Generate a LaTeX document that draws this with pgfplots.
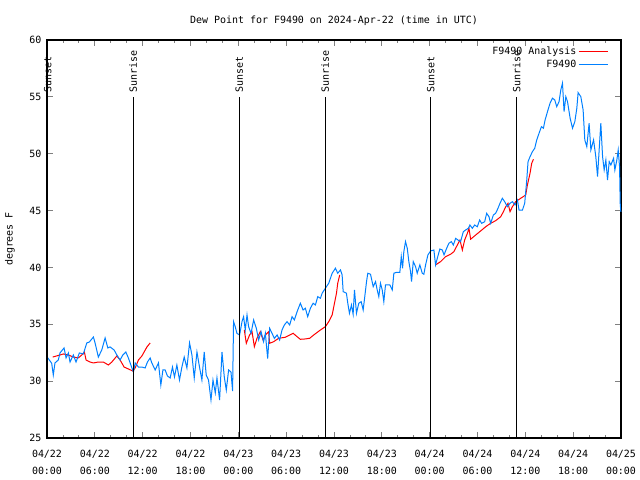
\documentclass[border=0pt]{standalone}
\usepackage{fontspec}
\setmainfont{DejaVu Sans Mono}
\usepackage{pgfplots}
\pgfplotsset{compat=1.18}
\definecolor{gpred}{RGB}{255,0,0}
\definecolor{gpblue}{RGB}{0,128,255}
\begin{document}
\begin{tikzpicture}[font=\fontsize{10}{12}\selectfont]
\path[use as bounding box] (-47bp,-42bp) rectangle (593bp,438bp);
\begin{axis}[
  scale only axis, width=574bp, height=398bp,
  xmin=0, xmax=72, ymin=25, ymax=60,
  clip=false,
  xtick={0,6,...,72},
  xticklabels={{04/22\\00:00},{04/22\\06:00},{04/22\\12:00},{04/22\\18:00},{04/23\\00:00},{04/23\\06:00},{04/23\\12:00},{04/23\\18:00},{04/24\\00:00},{04/24\\06:00},{04/24\\12:00},{04/24\\18:00},{04/25\\00:00}},
  minor x tick num=2,
  ytick={25,30,...,60},
  tick align=inside,
  major tick length=6bp, minor tick length=3bp,
  tick style={line width=0.8bp},
  axis line style={line width=1.2bp},
  /pgf/number format/assume math mode=true,
  xticklabel style={align=center, font=\fontsize{10}{17}\selectfont, yshift=-9bp},
  yticklabel style={xshift=-2bp},
  title={Dew Point for F9490 on 2024-Apr-22 (time in UTC)},
  title style={at={(0.5,1)}, anchor=center, yshift=13bp},
  ylabel={degrees F},
  ylabel style={at={(rel axis cs:0,0.5)}, anchor=center, yshift=37bp},
  legend plot pos=right,
  legend cell align=right,
  legend image code/.code={\draw[#1] (5bp,0bp) -- (34bp,0bp);},
  legend style={at={(rel axis cs:1,1)}, anchor=north east, xshift=-11bp, yshift=-3bp,
    draw=none, fill opacity=0, text opacity=1, inner sep=1.5bp},
]
% Analysis (red), three separate pieces
\addplot[color=gpred, line width=1bp] coordinates {
(0.72,32.12) (1.63,32.30) (2.05,32.39) (2.68,32.30) (3.30,32.12) (3.93,32.04)
(4.36,32.30) (4.69,32.56) (4.90,31.86) (5.40,31.68) (5.82,31.60) (6.44,31.68)
(7.07,31.68) (7.70,31.42) (8.13,31.68) (8.76,32.21) (9.17,31.86) (9.67,31.24)
(10.21,31.07) (10.77,30.89) (11.06,31.16) (11.47,31.86) (11.90,32.21) (12.53,33.00)
(12.94,33.36)};
\addlegendentry{F9490 Analysis}
\addplot[color=gpred, line width=1bp, forget plot] coordinates {
(24.75,34.50) (25.00,33.33) (25.41,34.06) (25.72,34.35) (26.01,33.03) (26.34,33.77)
(26.76,34.35) (27.10,33.62) (27.39,34.06) (27.80,34.35) (27.93,33.33) (28.43,33.47)
(29.06,33.77) (29.90,33.86) (30.87,34.21) (31.37,33.91) (31.78,33.68) (32.41,33.71)
(32.95,33.77) (33.46,34.06) (34.30,34.50) (34.92,34.79) (35.34,35.23) (35.77,35.82)
(36.06,36.85) (36.31,37.73) (36.47,38.61) (36.72,39.34)};
\addplot[color=gpred, line width=1bp, forget plot] coordinates {
(48.74,40.22) (49.37,40.51) (50.00,40.95) (50.63,41.16) (51.04,41.39) (51.47,41.97)
(51.80,42.41) (52.10,41.53) (52.39,42.41) (52.73,43.00) (52.93,43.44) (53.14,42.48)
(53.77,42.85) (54.40,43.21) (55.03,43.58) (55.65,43.88) (56.28,44.11) (56.91,44.46)
(57.25,44.90) (57.54,45.34) (57.83,45.64) (58.08,44.90) (58.38,45.34) (58.79,45.78)
(59.42,46.08) (60.05,46.37) (60.26,47.25) (60.59,48.28) (60.80,49.16) (61.02,49.51)};
% Observations (blue)
\addplot[color=gpblue, line width=1bp] coordinates {
(0.04,32.10) (0.59,31.57) (0.79,30.54) (1.00,31.60) (1.42,31.86) (1.63,32.48)
(2.14,32.92) (2.39,32.04) (2.68,32.48) (2.89,31.68) (3.30,32.30) (3.64,31.68)
(4.06,32.48) (4.56,32.39) (4.99,33.36) (5.31,33.44) (5.82,33.88) (6.03,33.36)
(6.44,32.12) (6.87,32.74) (7.29,33.80) (7.63,32.92) (7.91,33.01) (8.42,32.74)
(8.76,32.30) (9.17,31.86) (9.51,32.30) (9.89,32.56) (10.21,32.04) (10.52,31.42)
(10.84,30.80) (11.06,31.60) (11.47,31.24) (11.90,31.24) (12.31,31.16) (12.60,31.68)
(12.94,32.04) (13.15,31.60) (13.57,30.98) (13.98,31.60) (14.28,29.66) (14.54,30.98)
(14.82,30.98) (15.11,30.45) (15.45,30.28) (15.74,31.24) (15.99,30.36) (16.29,31.42)
(16.62,30.10) (16.92,31.24) (17.21,32.12) (17.55,31.16) (17.88,33.36) (18.18,32.30)
(18.47,30.28) (18.81,32.56) (19.13,31.24) (19.43,30.10) (19.72,32.56) (19.97,30.54)
(20.26,30.10) (20.57,28.34) (20.82,30.10) (21.11,28.96) (21.32,30.28) (21.65,28.34)
(21.95,32.56) (22.24,30.36) (22.49,29.22) (22.78,30.98) (23.08,30.80) (23.28,29.13)
(23.40,35.23) (23.61,34.79) (23.83,34.20) (24.16,34.06) (24.46,35.23) (24.66,35.67)
(24.87,34.50) (25.09,35.82) (25.29,34.79) (25.59,34.20) (25.92,35.38) (26.26,34.64)
(26.55,33.62) (26.85,34.35) (27.17,33.47) (27.39,34.20) (27.68,31.99) (27.93,34.64)
(28.23,34.20) (28.52,33.76) (28.86,34.06) (29.18,33.62) (29.48,34.50) (29.77,34.94)
(30.11,35.23) (30.44,34.94) (30.74,35.67) (31.03,35.38) (31.37,36.11) (31.78,36.85)
(32.12,36.26) (32.41,36.41) (32.70,35.67) (33.04,36.41) (33.38,36.85) (33.67,36.70)
(33.96,37.43) (34.30,37.29) (34.51,37.73) (34.92,38.17) (35.34,38.61) (35.77,39.49)
(36.18,39.93) (36.47,39.49) (36.81,39.78) (37.02,39.34) (37.15,37.87) (37.56,37.73)
(37.73,36.85) (37.94,35.97) (38.19,36.70) (38.40,35.88) (38.57,38.02) (38.82,35.97)
(39.11,36.85) (39.41,36.99) (39.66,36.26) (39.86,37.43) (40.08,38.75) (40.24,39.49)
(40.58,39.40) (40.92,38.31) (41.21,38.75) (41.42,38.02) (41.62,37.43) (41.83,38.61)
(42.05,38.02) (42.25,36.99) (42.46,38.46) (43.00,38.46) (43.31,38.02) (43.51,39.49)
(43.84,39.57) (44.26,39.57) (44.44,40.95) (44.60,39.93) (44.76,41.39) (44.97,42.27)
(45.19,41.68) (45.39,40.51) (45.60,39.63) (45.73,38.75) (45.94,40.51) (46.23,40.07)
(46.44,39.49) (46.77,40.22) (47.07,39.49) (47.27,39.40) (47.49,40.22) (47.78,41.10)
(48.12,41.45) (48.53,41.53) (48.74,40.22) (48.96,40.81) (49.28,41.62) (49.59,41.53)
(49.80,41.10) (50.13,41.68) (50.41,42.12) (50.72,42.27) (50.97,41.97) (51.26,42.56)
(51.55,42.41) (51.88,42.27) (52.22,43.14) (52.51,43.29) (52.85,43.44) (53.05,43.73)
(53.35,43.44) (53.64,43.73) (53.98,43.58) (54.27,44.17) (54.52,43.88) (54.90,44.02)
(55.15,44.76) (55.44,44.46) (55.65,43.88) (55.99,44.61) (56.28,44.76) (56.57,45.20)
(56.82,45.64) (57.12,46.08) (57.41,45.78) (57.75,45.34) (58.08,45.64) (58.38,45.78)
(58.71,45.49) (59.01,45.93) (59.21,45.05) (59.64,45.05) (59.92,45.64) (60.18,47.69)
(60.34,49.30) (60.59,49.74) (60.89,50.18) (61.18,50.48) (61.43,51.21) (61.72,51.80)
(62.02,52.38) (62.27,52.24) (62.48,52.97) (62.78,53.70) (63.10,54.44) (63.40,54.88)
(63.69,54.73) (63.94,54.14) (64.23,54.58) (64.45,55.61) (64.66,56.20) (64.86,53.70)
(65.08,55.02) (65.29,54.58) (65.62,53.12) (65.92,52.24) (66.21,52.82) (66.46,54.00)
(66.62,55.37) (66.96,55.02) (67.25,53.85) (67.46,51.21) (67.71,50.62) (68.00,52.68)
(68.22,50.33) (68.56,51.21) (68.84,49.74) (69.06,47.98) (69.26,50.33) (69.47,52.68)
(69.69,49.74) (69.89,48.57) (70.10,49.45) (70.31,47.69) (70.52,49.30) (70.73,49.01)
(71.07,49.60) (71.23,48.57) (71.48,49.45) (71.65,50.33) (71.82,48.86) (71.90,45.64)
(71.98,44.88)};
\addlegendentry{F9490}
% Sunrise / sunset markers
\addplot[black, line width=1bp, forget plot] coordinates {(0.1,25) (0.1,55)};
\addplot[black, line width=1bp, forget plot] coordinates {(10.82,25) (10.82,55)};
\addplot[black, line width=1bp, forget plot] coordinates {(24.1,25) (24.1,55)};
\addplot[black, line width=1bp, forget plot] coordinates {(34.9,25) (34.9,55)};
\addplot[black, line width=1bp, forget plot] coordinates {(48.15,25) (48.15,55)};
\addplot[black, line width=1bp, forget plot] coordinates {(58.9,25) (58.9,55)};
\node[rotate=90, anchor=west, inner sep=0pt] at (axis cs:0.1,55.4) {Sunset};
\node[rotate=90, anchor=west, inner sep=0pt] at (axis cs:10.82,55.4) {Sunrise};
\node[rotate=90, anchor=west, inner sep=0pt] at (axis cs:24.1,55.4) {Sunset};
\node[rotate=90, anchor=west, inner sep=0pt] at (axis cs:34.9,55.4) {Sunrise};
\node[rotate=90, anchor=west, inner sep=0pt] at (axis cs:48.15,55.4) {Sunset};
\node[rotate=90, anchor=west, inner sep=0pt] at (axis cs:58.9,55.4) {Sunrise};
\end{axis}
\end{tikzpicture}
\end{document}
